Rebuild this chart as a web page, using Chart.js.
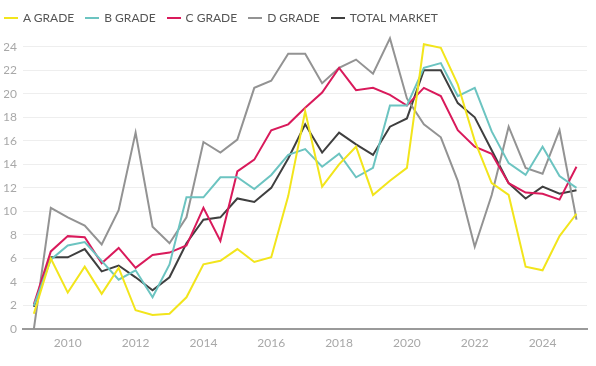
<!DOCTYPE html>
<html>
<head>
<meta charset="utf-8">
<script src="https://cdn.jsdelivr.net/npm/chart.js@4"></script>
<style>
  html, body { margin: 0; padding: 0; background: #fff; }
  #wrap { position: relative; width: 596px; height: 366px; }
  #legend {
    position: absolute; left: 4px; top: 10px;
    display: flex; align-items: center;
    font-family: Lato, sans-serif; font-size: 12px; color: #555;
  }
  #legend .item { display: flex; align-items: center; margin-right: 11px; }
  #legend .swatch { width: 14px; height: 2px; margin-right: 5px; }
</style>
</head>
<body>
<div id="wrap">
  <canvas id="chart" width="596" height="366"></canvas>
  <div id="legend"></div>
</div>
<script>
// half-yearly points, 2009 to 2025
const periods = [2009, 2009.5, 2010, 2010.5, 2011, 2011.5, 2012, 2012.5, 2013, 2013.5,
  2014, 2014.5, 2015, 2015.5, 2016, 2016.5, 2017, 2017.5, 2018, 2018.5,
  2019, 2019.5, 2020, 2020.5, 2021, 2021.5, 2022, 2022.5, 2023, 2023.5,
  2024, 2024.5, 2025];

const aGrade = [1.3, 6.0, 3.1, 5.3, 3.0, 5.2, 1.6, 1.2, 1.3, 2.7,
  5.5, 5.8, 6.8, 5.7, 6.1, 11.3, 18.5, 12.1, 14.0, 15.5,
  11.4, 12.6, 13.7, 24.2, 23.9, 20.8, 16.0, 12.4, 11.4, 5.3,
  5.0, 7.9, 9.8];
const bGrade = [2.0, 5.9, 7.1, 7.4, 5.8, 4.2, 5.0, 2.7, 5.5, 11.2,
  11.2, 12.9, 12.9, 11.9, 13.1, 14.8, 15.3, 13.8, 14.9, 12.9,
  13.7, 19.0, 19.0, 22.2, 22.6, 19.8, 20.5, 16.8, 14.1, 13.1,
  15.5, 13.0, 12.0];
const cGrade = [2.1, 6.6, 7.9, 7.8, 5.6, 6.9, 5.2, 6.3, 6.5, 7.1,
  10.3, 7.5, 13.4, 14.4, 16.9, 17.4, 18.8, 20.1, 22.2, 20.3,
  20.5, 19.9, 19.0, 20.5, 19.8, 16.9, 15.5, 14.9, 12.4, 11.6,
  11.5, 11.0, 13.8];
const dGrade = [0.0, 10.3, 9.5, 8.8, 7.2, 10.1, 16.7, 8.7, 7.3, 9.5,
  15.9, 15.0, 16.1, 20.5, 21.1, 23.4, 23.4, 20.9, 22.2, 22.9,
  21.7, 24.7, 19.6, 17.4, 16.3, 12.6, 7.0, 11.4, 17.2, 13.7,
  13.2, 16.9, 9.3];
const totalMarket = [1.9, 6.1, 6.1, 6.8, 4.9, 5.4, 4.4, 3.3, 4.4, 7.3,
  9.3, 9.5, 11.1, 10.8, 12.0, 14.5, 17.4, 15.0, 16.7, 15.7,
  14.8, 17.2, 17.9, 22.0, 22.0, 19.2, 18.0, 15.2, 12.4, 11.1,
  12.1, 11.5, 11.8];

const seriesNames = ["A GRADE", "B GRADE", "C GRADE", "D GRADE", "TOTAL MARKET"];
const seriesColors = ["#F2E51C", "#6CC4C1", "#D91A5B", "#939393", "#3F3F3F"];
const seriesValues = [aGrade, bGrade, cGrade, dGrade, totalMarket];

const yTicks = [0, 2, 4, 6, 8, 10, 12, 14, 16, 18, 20, 22, 24];
const xTicks = [2010, 2012, 2014, 2016, 2018, 2020, 2022, 2024];

// legend (html, so spacing matches the original)
const legendEl = document.getElementById("legend");
seriesNames.forEach((name, i) => {
  const item = document.createElement("div");
  item.className = "item";
  item.innerHTML = '<span class="swatch" style="background:' + seriesColors[i] + '"></span><span>' + name + '</span>';
  legendEl.appendChild(item);
});

const datasets = seriesValues.map((vals, i) => ({
  label: seriesNames[i],
  data: vals.map((v, k) => ({ x: periods[k], y: v })),
  borderColor: seriesColors[i],
  backgroundColor: seriesColors[i],
  borderWidth: 2,
  pointRadius: 0,
  tension: 0,
}));

new Chart(document.getElementById("chart"), {
  type: "line",
  data: { datasets },
  options: {
    responsive: false,
    animation: false,
    layout: { padding: { left: 4, right: 9, top: 29, bottom: 8.5 } },
    plugins: { legend: { display: false }, tooltip: { enabled: false } },
    scales: {
      x: {
        type: "linear",
        min: 2008.68,
        max: 2025.31,
        afterBuildTicks: (axis) => { axis.ticks = xTicks.map((v) => ({ value: v })); },
        grid: { display: false, drawTicks: false },
        border: { display: true, color: "#9a9a9a", width: 2 },
        ticks: {
          padding: 7,
          color: "#a8a8a8",
          font: { family: "Lato", size: 12 },
          callback: (v) => String(v),
        },
      },
      y: {
        min: 0,
        max: 25.5,
        afterBuildTicks: (axis) => { axis.ticks = yTicks.map((v) => ({ value: v })); },
        afterFit: (axis) => { axis.width = 19; },
        grid: { color: "#eeeeee", lineWidth: 1, drawTicks: false },
        border: { display: false },
        ticks: {
          padding: 6,
          color: "#a8a8a8",
          font: { family: "Lato", size: 12 },
        },
      },
    },
  },
});
</script>
</body>
</html>
